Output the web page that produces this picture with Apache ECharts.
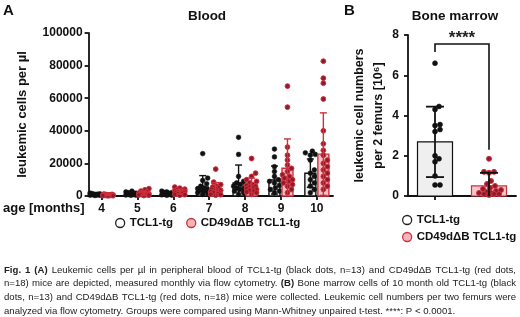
<!DOCTYPE html>
<html>
<head>
<meta charset="utf-8">
<script src="https://cdn.jsdelivr.net/npm/echarts@6/dist/echarts.min.js"></script>
<style>
  html, body { margin: 0; padding: 0; background: #fff; }
  #chart { width: 520px; height: 317px; }
</style>
</head>
<body>
<div id="chart"></div>
<script>
// ---- panel A: blood, leukemic cells per µl by age ----
const months = [4, 5, 6, 7, 8, 9, 10];
const tclMean = [900, 1100, 1100, 5500, 8000, 9800, 14000];
const tclSd = [400, 800, 700, 7000, 11000, 8600, 8700];
const cdMean = [600, 1500, 2500, 4000, 5500, 17000, 25700];
const cdSd = [300, 1100, 1400, 4200, 5500, 18000, 25300];
const tclDots = [
  [1800, 1500, 1300, 1200, 1100, 1000, 900, 800, 700, 600, 500, 400, 300],
  [3000, 2500, 2000, 1800, 1500, 1300, 1200, 1000, 900, 800, 600, 500, 400],
  [3000, 2500, 2200, 2000, 1800, 1500, 1300, 1200, 1000, 900, 700, 500, 400],
  [26000, 11000, 9500, 7500, 6000, 5000, 4500, 4000, 3500, 3000, 2000, 1500, 1000],
  [36000, 25500, 12000, 9000, 8000, 7000, 6000, 5000, 4500, 4000, 3000, 2000, 1000],
  [28800, 24000, 18000, 15000, 12000, 10000, 9000, 8000, 6500, 5000, 4000, 3000, 2000],
  [27500, 26500, 25500, 25000, 22000, 16000, 14000, 12000, 10000, 8000, 6000, 4000, 2000]
];
const cdDots = [
  [1200, 1000, 900, 800, 800, 700, 700, 600, 600, 500, 500, 400, 400, 300, 300, 200, 200, 100],
  [4500, 3800, 3000, 2600, 2200, 2000, 1800, 1600, 1400, 1200, 1100, 1000, 900, 800, 700, 600, 500, 300],
  [5500, 4800, 4200, 3800, 3500, 3200, 3000, 2800, 2600, 2400, 2200, 2000, 1800, 1500, 1300, 1000, 800, 500],
  [16500, 8500, 7000, 6000, 5500, 5000, 4500, 4000, 3500, 3000, 3000, 2500, 2000, 2000, 1500, 1000, 800, 500],
  [23000, 14000, 12000, 10000, 9000, 8000, 7000, 6500, 6000, 5500, 5000, 4500, 4000, 3500, 3000, 2500, 2000, 1000],
  [67400, 54500, 30000, 25000, 22000, 19000, 17000, 15000, 13000, 12000, 11000, 10000, 9000, 8000, 7000, 6000, 4000, 2000],
  [82700, 72300, 69200, 59500, 40000, 32000, 28000, 25000, 22000, 20000, 18000, 16000, 14000, 12000, 10000, 8000, 6000, 4000]
];

// ---- panel B: bone marrow, 10 months ----
const groups = ['TCL1-tg', 'CD49dΔB TCL1-tg'];
const bmMean = [2.69, 0.5];
const bmSd = [1.75, 0.65];
const bmDots = [
  [6.6, 4.45, 4.3, 3.55, 3.5, 3.3, 3.2, 2.0, 1.85, 1.7, 1.0, 0.55, 0.55],
  [1.85, 1.2, 1.2, 1.15, 0.75, 0.6, 0.5, 0.4, 0.35, 0.3, 0.25, 0.2, 0.15, 0.15, 0.1, 0.1, 0.1, 0.05]
];
const sigLevels = [7.15, 7.55, 2.3]; // left leg bottom, bracket top, right leg bottom
const sigText = '****';

// ---- figure caption, one entry per printed line; [text, bold] pieces ----
const captionLines = [
  [['Fig. 1 (A)', true], [' Leukemic cells per µl in peripheral blood of TCL1-tg (black dots, n=13) and CD49dΔB TCL1-tg (red dots,', false]],
  [['n=18) mice are depicted, measured monthly via flow cytometry. ', false], ['(B)', true], [' Bone marrow cells of 10 month old TCL1-tg (black', false]],
  [['dots, n=13) and CD49dΔB TCL1-tg (red dots, n=18) mice were collected. Leukemic cell numbers per two femurs were', false]],
  [['analyzed via flow cytometry. Groups were compared using Mann-Whitney unpaired t-test. ****: P < 0.0001.', false]]
];

const BLACK = '#111';
const RED = '#d0303c';
const FONT = 'Liberation Sans, Arial, sans-serif';

// simple beeswarm: spread overlapping dots sideways, closest to the centre first
function swarm(ys, r, spread) {
  const offs = new Array(ys.length).fill(0);
  const placed = [];
  const order = ys.map((y, i) => i).sort((a, b) => ys[b] - ys[a]);
  order.forEach(i => {
    let best = 0, bestD = -1;
    for (let k = 0; k <= spread * 2; k++) {
      const o = (k % 2 ? 1 : -1) * Math.ceil(k / 2);
      let d = Infinity;
      placed.forEach(p => { d = Math.min(d, Math.hypot(p[0] - o, p[1] - ys[i])); });
      if (d >= 2 * r) { best = o; bestD = d; break; }
      if (d > bestD) { bestD = d; best = o; }
    }
    offs[i] = best;
    placed.push([best, ys[i]]);
  });
  return offs;
}

function drawGroup(api, xVal, mean, sd, dots, o) {
  const top = api.coord([xVal, mean]);
  const base = api.coord([xVal, 0]);
  const cx = top[0] + o.shift;
  const kids = [{
    type: 'rect',
    shape: { x: cx - o.bw / 2, y: top[1], width: o.bw, height: base[1] - top[1] },
    style: { fill: o.barFill, stroke: o.barStroke, lineWidth: o.barLw }
  }];
  const ys = dots.map(v => api.coord([xVal, v])[1]);
  const offs = swarm(ys, o.r, o.spread);
  ys.forEach((y, k) => kids.push({
    type: 'circle',
    shape: { cx: cx + offs[k], cy: y, r: o.r },
    style: { fill: o.dotFill, stroke: o.dotStroke, lineWidth: o.dotLw }
  }));
  const hi = api.coord([xVal, mean + sd])[1];
  const lo = api.coord([xVal, Math.max(0, mean - sd)])[1];
  const es = { stroke: o.errColor, lineWidth: o.errLw };
  kids.push({ type: 'line', shape: { x1: cx, y1: hi, x2: cx, y2: lo }, style: es });
  kids.push({ type: 'line', shape: { x1: cx - o.cap / 2, y1: hi, x2: cx + o.cap / 2, y2: hi }, style: es });
  if (mean - sd > 0) {
    kids.push({ type: 'line', shape: { x1: cx - o.cap / 2, y1: lo, x2: cx + o.cap / 2, y2: lo }, style: es });
  }
  return { type: 'group', children: kids };
}

// justified caption: lay words out along each line, last line left-aligned
function captionGraphics(lines, width, size, lineGap) {
  const ctx = document.createElement('canvas').getContext('2d');
  const fontOf = b => (b ? 'bold ' : '') + size + 'px ' + FONT;
  const out = [];
  lines.forEach((segs, li) => {
    const words = [];
    segs.forEach(([txt, bold]) => {
      txt.split(' ').forEach((w, k) => {
        if (k > 0 || txt.startsWith(' ')) words.push(null); // word break
        if (w) words.push({ w, bold });
      });
    });
    // merge into space-separated groups (a group may mix bold/plain pieces)
    const groupsW = [];
    let cur = [];
    words.forEach(t => {
      if (t === null) { if (cur.length) groupsW.push(cur); cur = []; }
      else cur.push(t);
    });
    if (cur.length) groupsW.push(cur);
    ctx.font = fontOf(false);
    const spaceW = ctx.measureText(' ').width;
    const widths = groupsW.map(g => g.reduce((s, t) => { ctx.font = fontOf(t.bold); return s + ctx.measureText(t.w).width; }, 0));
    const total = widths.reduce((a, b) => a + b, 0);
    const last = li === lines.length - 1;
    const gap = last ? spaceW : (width - total) / (groupsW.length - 1);
    let x = 0;
    groupsW.forEach(g => {
      g.forEach(t => {
        ctx.font = fontOf(t.bold);
        out.push({ type: 'text', x, y: li * lineGap,
          style: { text: t.w, font: fontOf(t.bold), fill: '#222' } });
        x += ctx.measureText(t.w).width;
      });
      x += gap;
    });
  });
  return out;
}

const styleA = [
  { shift: -6.5, bw: 11, barFill: '#efefef', barStroke: BLACK, barLw: 1.4, r: 2.4, spread: 5,
    dotFill: BLACK, dotStroke: BLACK, dotLw: 0.5, errColor: BLACK, errLw: 1.4, cap: 7 },
  { shift: 6.5, bw: 11, barFill: '#f6c3c6', barStroke: RED, barLw: 1.4, r: 2.4, spread: 5,
    dotFill: '#8e1b2b', dotStroke: RED, dotLw: 1, errColor: RED, errLw: 1.4, cap: 7 }
];
const styleB = [
  { shift: 0, bw: 35, barFill: '#efefef', barStroke: BLACK, barLw: 1.2, r: 2.5, spread: 9,
    dotFill: BLACK, dotStroke: BLACK, dotLw: 0.5, errColor: BLACK, errLw: 1.8, cap: 18 },
  { shift: 0, bw: 35, barFill: '#f7c6c9', barStroke: RED, barLw: 1.2, r: 2.5, spread: 12,
    dotFill: '#8e1b2b', dotStroke: RED, dotLw: 1, errColor: BLACK, errLw: 1.8, cap: 18 }
];

const axisLine = { show: true, lineStyle: { color: BLACK, width: 1.8 } };
const axisTick = { show: true, inside: false, length: 4, lineStyle: { color: BLACK, width: 1.8 } };
const tickFont = { color: BLACK, fontFamily: FONT, fontWeight: 'bold', fontSize: 12, formatter: v => String(v) };
const legendIcons = [
  { name: groups[0], icon: 'circle', itemStyle: { color: '#fff', borderColor: '#222', borderWidth: 1.3 } },
  { name: groups[1], icon: 'circle', itemStyle: { color: '#f4b6bb', borderColor: RED, borderWidth: 1.3 } }
];

const chart = echarts.init(document.getElementById('chart'), null, { renderer: 'canvas' });

const option = {
  animation: false,
  backgroundColor: '#fff',
  title: [
    { text: 'A', left: -2, top: -2, textStyle: { fontFamily: FONT, fontWeight: 'bold', fontSize: 15, color: BLACK } },
    { text: 'B', left: 339, top: -2, textStyle: { fontFamily: FONT, fontWeight: 'bold', fontSize: 15, color: BLACK } },
    { text: 'Blood', left: 202, top: 4, textAlign: 'center',
      textStyle: { fontFamily: FONT, fontWeight: 'bold', fontSize: 13.5, color: BLACK } },
    { text: 'Bone marrow', left: 450, top: 4, textAlign: 'center',
      textStyle: { fontFamily: FONT, fontWeight: 'bold', fontSize: 13.5, color: BLACK } }
  ],
  legend: [
    {
      left: 110, top: 212, orient: 'horizontal', itemWidth: 9, itemHeight: 9, itemGap: 13,
      textStyle: { fontFamily: FONT, fontWeight: 'bold', fontSize: 11.5, color: BLACK },
      data: legendIcons
    },
    {
      left: 397, top: 209, orient: 'vertical', itemWidth: 9, itemHeight: 9, itemGap: 5,
      textStyle: { fontFamily: FONT, fontWeight: 'bold', fontSize: 11.5, color: BLACK },
      data: legendIcons
    }
  ],
  grid: [
    { left: 86, top: 33, right: 187, bottom: 121 },
    { left: 408, top: 35, right: 4, bottom: 121 }
  ],
  xAxis: [
    {
      gridIndex: 0, type: 'value', min: 3.64, max: 10.45,
      name: 'age [months]', nameLocation: 'start', nameGap: 4,
      nameTextStyle: { fontFamily: FONT, fontWeight: 'bold', fontSize: 13, color: BLACK,
        align: 'right', verticalAlign: 'top', padding: [6, 0, 0, 0] },
      axisLine, splitLine: { show: false },
      axisTick: Object.assign({ customValues: months }, axisTick),
      axisLabel: Object.assign({ customValues: months, margin: 7 }, tickFont)
    },
    {
      gridIndex: 1, type: 'category', data: groups, boundaryGap: true,
      axisLine, axisTick: Object.assign({ alignWithLabel: true }, axisTick),
      axisLabel: { show: false }
    }
  ],
  yAxis: [
    {
      gridIndex: 0, type: 'value', min: 0, max: 100000, interval: 20000,
      name: 'leukemic cells per µl', nameLocation: 'middle', nameGap: 60,
      nameTextStyle: { fontFamily: FONT, fontWeight: 'bold', fontSize: 13, color: BLACK },
      axisLine, axisTick, splitLine: { show: false },
      axisLabel: Object.assign({ margin: 6 }, tickFont)
    },
    {
      gridIndex: 1, type: 'value', min: 0, max: 8, interval: 2,
      name: 'leukemic cell numbers\nper 2 femurs [10⁶]', nameLocation: 'middle', nameGap: 14,
      nameTextStyle: { fontFamily: FONT, fontWeight: 'bold', fontSize: 12.5, color: BLACK, lineHeight: 19 },
      axisLine, axisTick, splitLine: { show: false },
      axisLabel: Object.assign({ margin: 9 }, tickFont)
    }
  ],
  graphic: [
    { type: 'group', left: 4, top: 265, children: captionGraphics(captionLines, 512, 9.6, 13.8) }
  ],
  series: [
    {
      name: groups[0], type: 'custom', xAxisIndex: 0, yAxisIndex: 0, clip: false,
      data: months.map((m, i) => [m, tclMean[i], tclSd[i], i]),
      encode: { x: 0, y: 1 },
      renderItem: (params, api) => {
        const i = api.value(3);
        return drawGroup(api, api.value(0), api.value(1), api.value(2), tclDots[i], styleA[0]);
      }
    },
    {
      name: groups[1], type: 'custom', xAxisIndex: 0, yAxisIndex: 0, clip: false,
      data: months.map((m, i) => [m, cdMean[i], cdSd[i], i]),
      encode: { x: 0, y: 1 },
      renderItem: (params, api) => {
        const i = api.value(3);
        return drawGroup(api, api.value(0), api.value(1), api.value(2), cdDots[i], styleA[1]);
      }
    },
    {
      name: groups[0], type: 'custom', xAxisIndex: 1, yAxisIndex: 1, clip: false,
      data: [[0, bmMean[0], bmSd[0]]],
      encode: { x: 0, y: 1 },
      renderItem: (params, api) => drawGroup(api, 0, api.value(1), api.value(2), bmDots[0], styleB[0])
    },
    {
      name: groups[1], type: 'custom', xAxisIndex: 1, yAxisIndex: 1, clip: false,
      data: [[1, bmMean[1], bmSd[1]]],
      encode: { x: 0, y: 1 },
      renderItem: (params, api) => drawGroup(api, 1, api.value(1), api.value(2), bmDots[1], styleB[1])
    },
    {
      type: 'custom', xAxisIndex: 1, yAxisIndex: 1, clip: false, silent: true,
      data: [[0, sigLevels[1]]],
      encode: { x: 0, y: 1 },
      renderItem: (params, api) => {
        const a = api.coord([0, sigLevels[0]]);
        const t = api.coord([0, sigLevels[1]]);
        const b = api.coord([1, sigLevels[2]]);
        return {
          type: 'group',
          children: [
            { type: 'polyline', shape: { points: [[a[0], a[1]], [a[0], t[1]], [b[0], t[1]], [b[0], b[1]]] },
              style: { stroke: BLACK, lineWidth: 1.6, fill: null } },
            { type: 'text', style: { text: sigText, x: (a[0] + b[0]) / 2, y: t[1] - 6,
              align: 'center', verticalAlign: 'middle', fontFamily: FONT, fontWeight: 'bold', fontSize: 17, fill: '#222' } }
          ]
        };
      }
    }
  ]
};

chart.setOption(option);
</script>
</body>
</html>
